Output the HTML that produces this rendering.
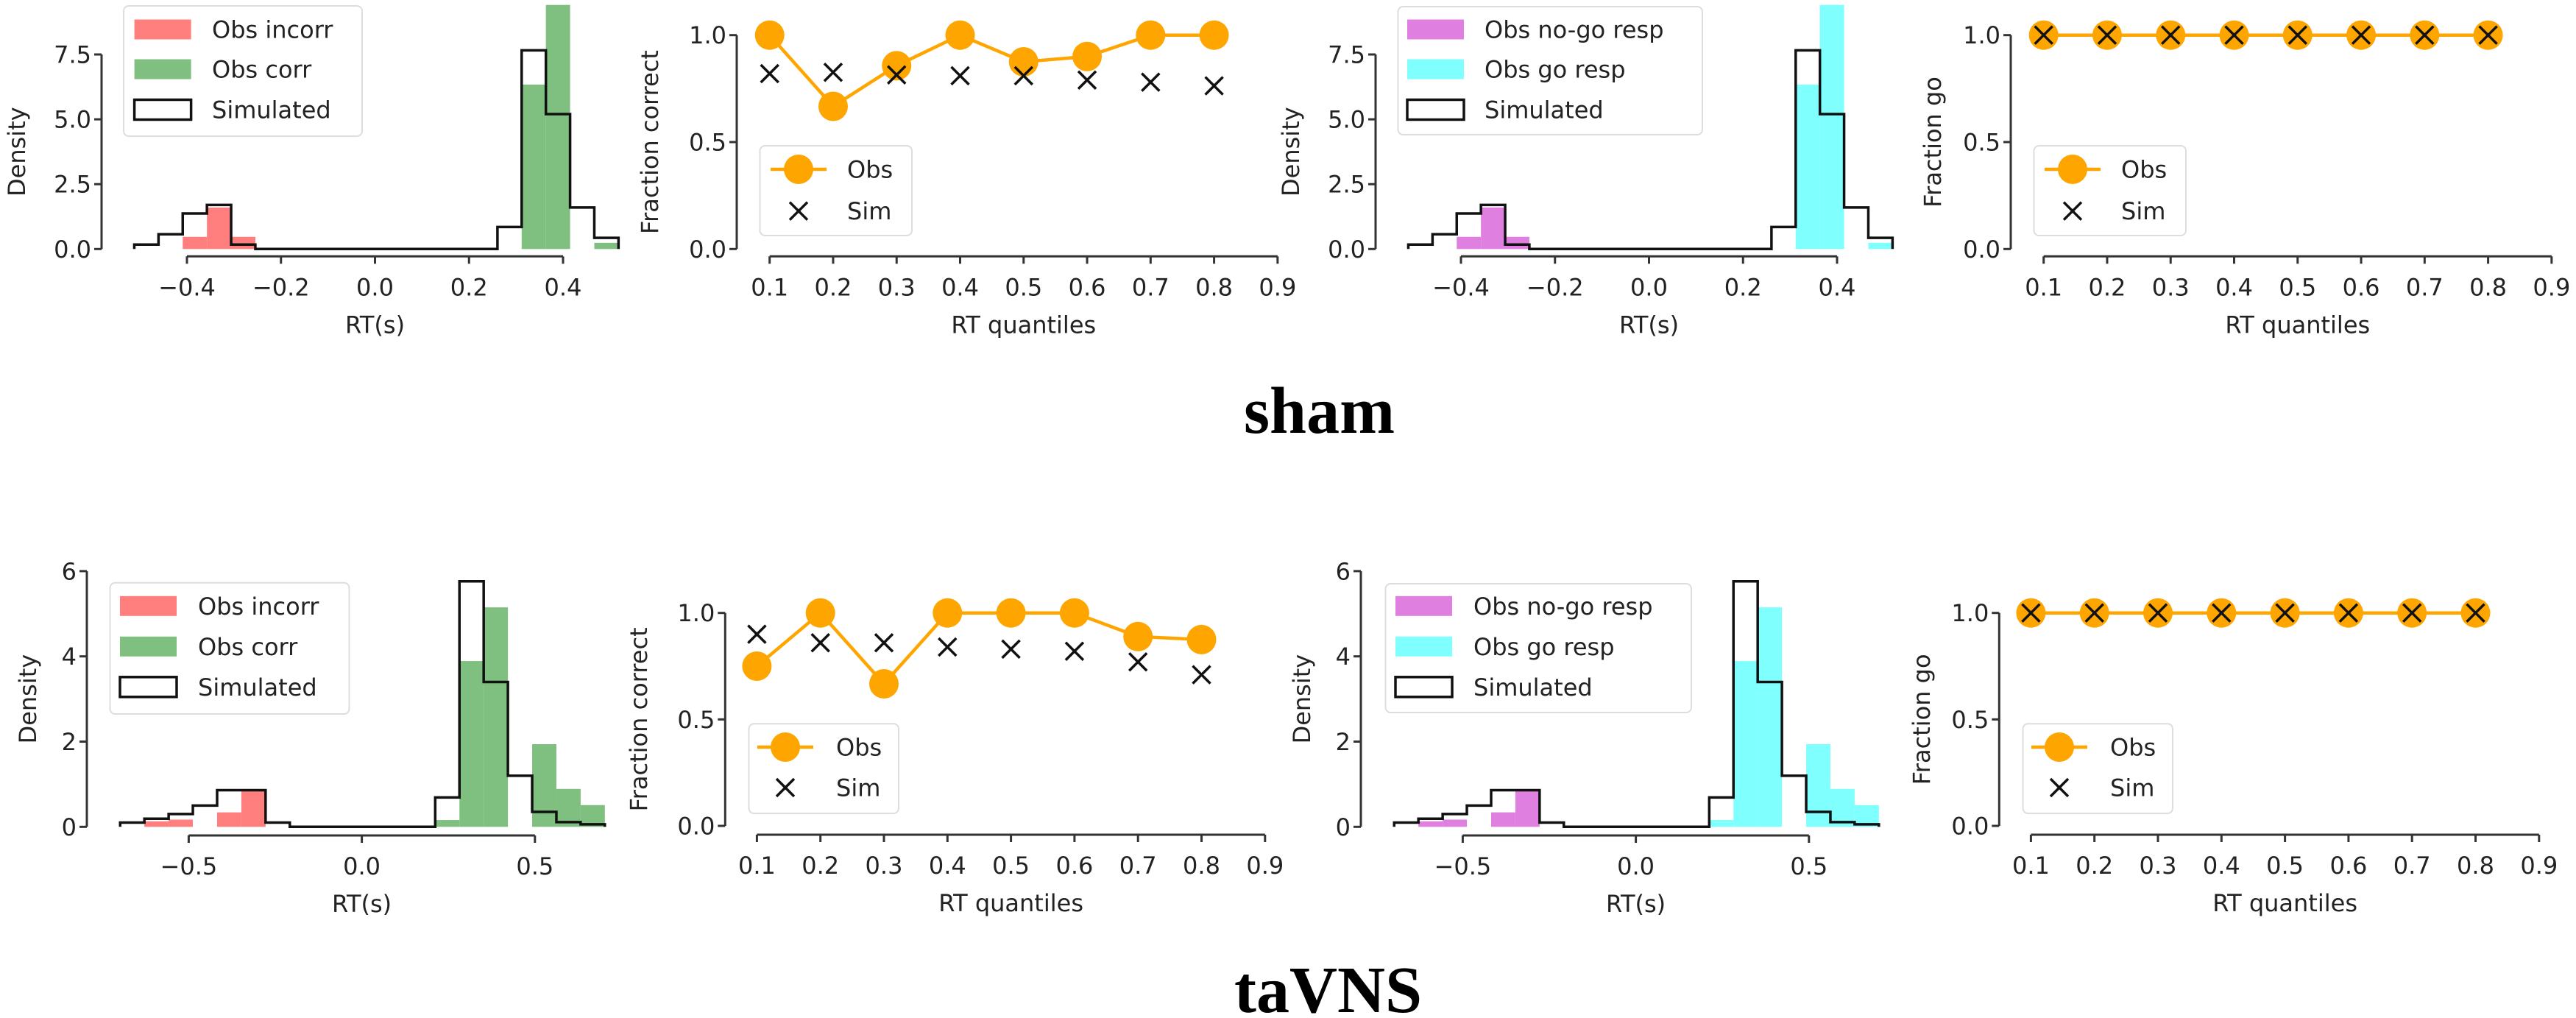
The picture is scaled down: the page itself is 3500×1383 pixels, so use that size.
<!DOCTYPE html>
<html><head><meta charset="utf-8"><style>
html,body{margin:0;padding:0;background:#fff;}
svg{display:block;}
text{font-family:"DejaVu Sans","Liberation Sans",sans-serif;fill:#222;}
</style></head><body>
<svg id="fig" xmlns="http://www.w3.org/2000/svg" width="3500" height="1383" viewBox="0 0 3500 1383">
<text x="1690" y="588" style="font-family:'Liberation Serif',serif;font-weight:bold;font-size:90px;fill:#000">sham</text>
<text x="1677" y="1375" style="font-family:'Liberation Serif',serif;font-weight:bold;font-size:90px;fill:#000">taVNS</text>
</svg>
<script>
// ---- data ----
const quantiles = [0.1,0.2,0.3,0.4,0.5,0.6,0.7,0.8];
const quantileTicks = [0.1,0.2,0.3,0.4,0.5,0.6,0.7,0.8,0.9];
const fracTicks = [0.0,0.5,1.0];
const shamObsCorrect = [1.0,0.667,0.857,1.0,0.875,0.9,1.0,1.0];
const shamSimCorrect = [0.82,0.826,0.814,0.81,0.81,0.79,0.78,0.763];
const tavnsObsCorrect = [0.75,1.0,0.667,1.0,1.0,1.0,0.889,0.875];
const tavnsSimCorrect = [0.9,0.86,0.86,0.84,0.83,0.82,0.77,0.71];
const shamObsGo = [1,1,1,1,1,1,1,1];
const shamSimGo = [1,1,1,1,1,1,1,1];
const tavnsObsGo = [1,1,1,1,1,1,1,1];
const tavnsSimGo = [1,1,1,1,1,1,1,1];
// histograms: 20 bins each
const shamBinStart = -0.512, shamBinWidth = 0.0515;
const tavnsBinStart = -0.698, tavnsBinWidth = 0.070;
const shamSim = [0.17,0.57,1.37,1.7,0.17,0,0,0,0,0,0,0,0,0,0,0.85,7.66,5.2,1.6,0.43];
const shamObsIncorr = [0,0,0.47,1.6,0.47,0,0,0,0,0,0,0,0,0,0,0,0,0,0,0];
const shamObsCorr = [0,0,0,0,0,0,0,0,0,0,0,0,0,0,0,0,6.34,9.6,0,0.24];
const tavnsSim = [0.1,0.19,0.3,0.5,0.86,0.86,0.1,0,0,0,0,0,0,0.69,5.76,3.4,1.2,0.35,0.11,0.06];
const tavnsObsIncorr = [0,0.13,0.17,0,0.34,0.87,0,0,0,0,0,0,0,0,0,0,0,0,0,0];
const tavnsObsCorr = [0,0,0,0,0,0,0,0,0,0,0,0,0,0.16,3.89,5.15,0,1.94,0.89,0.51];
const shamRtTicks = [-0.4,-0.2,0.0,0.2,0.4];
const shamDensTicks = [0,2.5,5,7.5];
const tavnsRtTicks = [-0.5,0.0,0.5];
const tavnsDensTicks = [0,2,4,6];

const NS='http://www.w3.org/2000/svg';
const svg=document.getElementById('fig');
function el(tag,attrs,parent){const e=document.createElementNS(NS,tag);for(const k in attrs)e.setAttribute(k,attrs[k]);(parent||svg).appendChild(e);return e;}
function txt(s,attrs,parent){const e=el('text',attrs,parent);e.textContent=s;return e;}
function fmt(v,d){return v.toFixed(d).replace('-','\u2212');}

function histPanel(cfg){
  const g=el('g',{});
  
  
  const sx=v=>cfg.x0+v*cfg.kx, sy=v=>Math.max(cfg.yTop,cfg.yb-v*cfg.ky);
  const edge=i=>cfg.lo+i*cfg.w;
  // obs bars
  [[cfg.obsA,cfg.colA,'obs-bar-a'],[cfg.obsB,cfg.colB,'obs-bar-b']].forEach(([arr,col,nm])=>{
    arr.forEach((v,i)=>{ if(v<=0)return;
      const r=el('rect',{x:sx(edge(i)),y:sy(v),width:sx(edge(i+1))-sx(edge(i)),height:cfg.yb-sy(v),fill:col},g);
      
      
    });
  });
  // sim step
  let d='M'+sx(edge(0))+','+cfg.yb;
  cfg.sim.forEach((v,i)=>{d+=' L'+sx(edge(i))+','+sy(v)+' L'+sx(edge(i+1))+','+sy(v);});
  d+=' L'+sx(edge(cfg.sim.length))+','+cfg.yb;
  const p=el('path',{d:d,fill:'none',stroke:'#111','stroke-width':3.5,'stroke-linejoin':'miter'},g);
  
  
  // y axis
  const yt=cfg.yTicks;
  el('line',{x1:cfg.yax,x2:cfg.yax,y1:cfg.yb-yt[yt.length-1]*cfg.ky,y2:cfg.yb,stroke:'#333','stroke-width':3},g);
  yt.forEach(v=>{const y=cfg.yb-v*cfg.ky;
    el('line',{x1:cfg.yax-10,x2:cfg.yax,y1:y,y2:y,stroke:'#333','stroke-width':3},g);
    const t=txt(fmt(v,cfg.yDec),{x:cfg.yax-14,y:y+11.5,'text-anchor':'end','font-size':32},g);
    
    
  });
  // x axis
  const xt=cfg.xTicks;
  el('line',{x1:sx(xt[0]),x2:sx(xt[xt.length-1]),y1:cfg.xay,y2:cfg.xay,stroke:'#333','stroke-width':3},g);
  xt.forEach(v=>{const x=sx(v);
    el('line',{x1:x,x2:x,y1:cfg.xay,y2:cfg.xay+10,stroke:'#333','stroke-width':3},g);
    const t=txt(fmt(v,1),{x:x,y:cfg.xay+53,'text-anchor':'middle','font-size':32},g);
    
    
  });
  const xl=txt('RT(s)',{x:sx(0),y:cfg.xay+104,'text-anchor':'middle','font-size':32},g);
  
  
  const ycy=(cfg.yb-yt[yt.length-1]*cfg.ky+cfg.yb)/2;
  const yl=txt('Density',{x:cfg.ylx,y:ycy,'text-anchor':'middle','dominant-baseline':'central','font-size':32,transform:'rotate(-90 '+cfg.ylx+' '+ycy+')'},g);
  
  
  // legend
  const L=cfg.leg;
  const lg=el('g',{},g);
  
  
  el('rect',{x:L.x1,y:L.y1,width:L.x2-L.x1,height:L.y2-L.y1,rx:7,fill:'#fff','fill-opacity':0.85,stroke:'#ddd','stroke-width':2},lg);
  const items=[[cfg.labA,cfg.colA,null],[cfg.labB,cfg.colB,null],['Simulated','none','#111']];
  items.forEach((it,i)=>{const cy=L.cy[i];
    el('rect',{x:L.px,y:cy-13.5,width:77,height:27,fill:it[1],stroke:it[2]||'none','stroke-width':3.5},lg);
    const t=txt(it[0],{x:L.tx,y:cy+11.5,'font-size':32},lg);
    
    
  });
}

function fracPanel(cfg){
  const g=el('g',{});
  
  
  const sx=q=>cfg.x01+(q-0.1)*cfg.kx, sy=v=>cfg.y0-v*(cfg.y0-cfg.y1);
  el('line',{x1:cfg.yax,x2:cfg.yax,y1:sy(1),y2:sy(0),stroke:'#333','stroke-width':3},g);
  fracTicks.forEach(v=>{const y=sy(v);
    el('line',{x1:cfg.yax-10,x2:cfg.yax,y1:y,y2:y,stroke:'#333','stroke-width':3},g);
    const t=txt(v.toFixed(1),{x:cfg.yax-14,y:y+11.5,'text-anchor':'end','font-size':32},g);
    
    
  });
  el('line',{x1:sx(quantileTicks[0]),x2:sx(quantileTicks[quantileTicks.length-1]),y1:cfg.xay,y2:cfg.xay,stroke:'#333','stroke-width':3},g);
  quantileTicks.forEach(q=>{const x=sx(q);
    el('line',{x1:x,x2:x,y1:cfg.xay,y2:cfg.xay+10,stroke:'#333','stroke-width':3},g);
    const t=txt(q.toFixed(1),{x:x,y:cfg.xay+53,'text-anchor':'middle','font-size':32},g);
    
    
  });
  const xm=(sx(0.1)+sx(0.9))/2;
  const xl=txt('RT quantiles',{x:xm,y:cfg.xay+104,'text-anchor':'middle','font-size':32},g);
  
  
  const ycy=(sy(0)+sy(1))/2;
  const yl=txt(cfg.ylabel,{x:cfg.ylx,y:ycy,'text-anchor':'middle','dominant-baseline':'central','font-size':32,transform:'rotate(-90 '+cfg.ylx+' '+ycy+')'},g);
  
  
  // obs line
  let d='';cfg.obs.forEach((v,i)=>{d+=(i?' L':'M')+sx(quantiles[i])+','+sy(v);});
  const pl=el('path',{d:d,fill:'none',stroke:'#ffa500','stroke-width':4.5},g);
  
  
  cfg.obs.forEach((v,i)=>{
    const c=el('ellipse',{cx:sx(quantiles[i]),cy:sy(v),rx:20,ry:20,fill:'#ffa500'},g);
    
    
  });
  cfg.sim.forEach((v,i)=>{const x=sx(quantiles[i]),y=sy(v),s=12;
    const p=el('path',{d:`M${x-s},${y-s} L${x+s},${y+s} M${x-s},${y+s} L${x+s},${y-s}`,stroke:'#111','stroke-width':3.5},g);
    
    
  });
  const L=cfg.leg;
  const lg=el('g',{},g);
  
  
  el('rect',{x:L.x1,y:L.y1,width:L.x2-L.x1,height:L.y2-L.y1,rx:7,fill:'#fff','fill-opacity':0.85,stroke:'#ddd','stroke-width':2},lg);
  el('line',{x1:L.mx-38,x2:L.mx+38,y1:L.cy[0],y2:L.cy[0],stroke:'#ffa500','stroke-width':4.5},lg);
  el('ellipse',{cx:L.mx,cy:L.cy[0],rx:20,ry:20,fill:'#ffa500'},lg);
  const s=12,x=L.mx,y=L.cy[1];
  el('path',{d:`M${x-s},${y-s} L${x+s},${y+s} M${x-s},${y+s} L${x+s},${y-s}`,stroke:'#111','stroke-width':3.5},lg);
  ['Obs','Sim'].forEach((n,i)=>{const t=txt(n,{x:L.tx,y:L.cy[i]+11.5,'font-size':32},lg);
    
    });
}

const DX=1731;
const topH={x0:509.5,kx:638.75,yb:338.3,ky:35.24,yTop:6.7,lo:shamBinStart,w:shamBinWidth,yax:138,xay:348.3,ylx:23,yTicks:shamDensTicks,yDec:1,xTicks:shamRtTicks,sim:shamSim};
const botH={x0:491.6,kx:470.4,yb:1123.3,ky:57.9,yTop:760,lo:tavnsBinStart,w:tavnsBinWidth,yax:118,xay:1135,ylx:38,yTicks:tavnsDensTicks,yDec:0,xTicks:tavnsRtTicks,sim:tavnsSim};
histPanel(Object.assign({},topH,{name:'sham-rt-histogram',obsA:shamObsIncorr,obsB:shamObsCorr,colA:'#ff7f7f',colB:'#7fbf7f',labA:'Obs incorr',labB:'Obs corr',
  leg:{x1:168,y1:8,x2:492,y2:185,px:182.6,tx:288,cy:[40,94,149]}}));
histPanel(Object.assign({},topH,{name:'sham-go-nogo-histogram',x0:topH.x0+DX,yax:topH.yax+DX,ylx:topH.ylx+DX,obsA:shamObsIncorr,obsB:shamObsCorr,colA:'#df7fdf',colB:'#80ffff',labA:'Obs no-go resp',labB:'Obs go resp',
  leg:{x1:1899.5,y1:9,x2:2313,y2:183,px:1912,tx:2017,cy:[40,94,149]}}));
histPanel(Object.assign({},botH,{name:'tavns-rt-histogram',obsA:tavnsObsIncorr,obsB:tavnsObsCorr,colA:'#ff7f7f',colB:'#7fbf7f',labA:'Obs incorr',labB:'Obs corr',
  leg:{x1:149.5,y1:791.7,x2:474.5,y2:970,px:163,tx:269,cy:[823.3,878.3,933.3]}}));
histPanel(Object.assign({},botH,{name:'tavns-go-nogo-histogram',x0:botH.x0+DX,yax:botH.yax+DX,ylx:botH.ylx+DX,obsA:tavnsObsIncorr,obsB:tavnsObsCorr,colA:'#df7fdf',colB:'#80ffff',labA:'Obs no-go resp',labB:'Obs go resp',
  leg:{x1:1882.5,y1:793,x2:2298,y2:968,px:1896,tx:2002,cy:[823.3,878.3,933.3]}}));

const topF={x01:1045.7,kx:862.7,y1:47.7,y0:338.3,yax:1001,xay:348.3,ylx:883};
const botF={x01:1028.4,kx:863,y1:832.7,y0:1122,yax:985.3,xay:1134,ylx:868};
fracPanel(Object.assign({},topF,{name:'sham-fraction-correct',ylabel:'Fraction correct',obs:shamObsCorrect,sim:shamSimCorrect,
  leg:{x1:1032.5,y1:198,x2:1239,y2:320,mx:1085,tx:1151,cy:[230,286.7]}}));
fracPanel(Object.assign({},topF,{name:'sham-fraction-go',x01:topF.x01+DX,yax:topF.yax+DX,ylx:topF.ylx+DX+12,ylabel:'Fraction go',obs:shamObsGo,sim:shamSimGo,
  leg:{x1:1032.5+DX,y1:198,x2:1239+DX,y2:320,mx:1085+DX,tx:1151+DX,cy:[230,286.7]}}));
fracPanel(Object.assign({},botF,{name:'tavns-fraction-correct',ylabel:'Fraction correct',obs:tavnsObsCorrect,sim:tavnsSimCorrect,
  leg:{x1:1017.5,y1:983.3,x2:1221,y2:1105,mx:1067,tx:1136,cy:[1015,1070]}}));
fracPanel(Object.assign({},botF,{name:'tavns-fraction-go',x01:botF.x01+DX,yax:botF.yax+DX,ylx:botF.ylx+DX+12,ylabel:'Fraction go',obs:tavnsObsGo,sim:tavnsSimGo,
  leg:{x1:1017.5+DX,y1:983.3,x2:1221+DX,y2:1105,mx:1067+DX,tx:1136+DX,cy:[1015,1070]}}));
</script>
</body></html>
